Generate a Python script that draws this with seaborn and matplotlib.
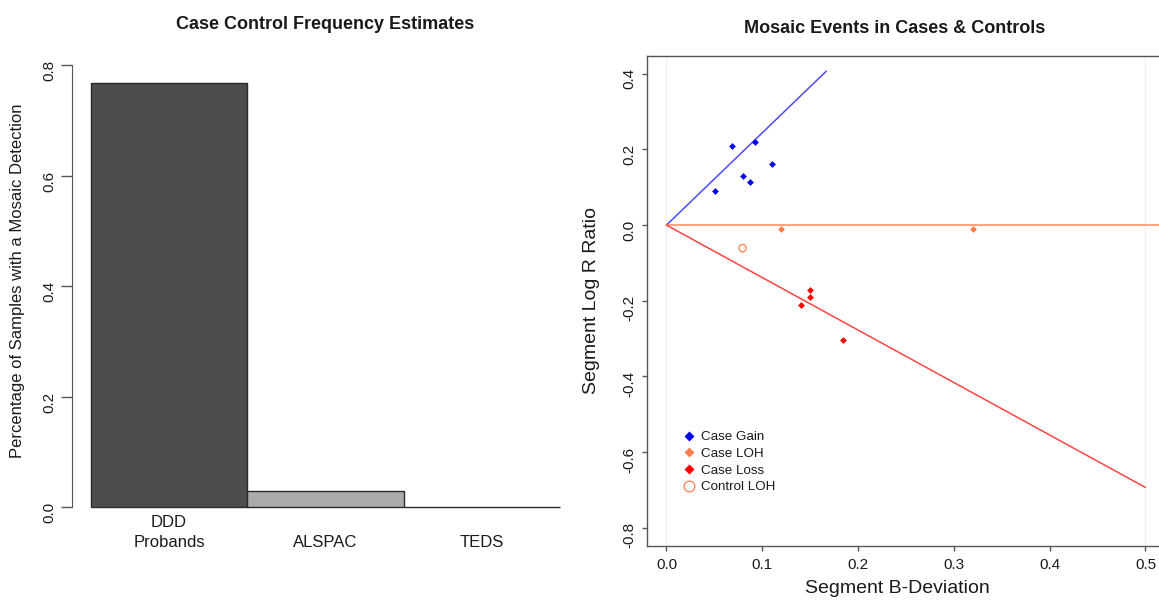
import numpy as np
import pandas as pd
import matplotlib
matplotlib.use('Agg')
import matplotlib.pyplot as plt
from matplotlib.lines import Line2D
from matplotlib.ticker import FormatStrFormatter
import seaborn as sns

# left panel: frequency per cohort
cohorts = ['DDD\nProbands', 'ALSPAC', 'TEDS']
freq = [0.768, 0.0295, 0.0]
left_yticks = [0.0, 0.2, 0.4, 0.6, 0.8]

# right panel: mosaic events (B-deviation vs log R ratio)
gain_bdev = [0.051, 0.0687, 0.0923, 0.1097, 0.0795, 0.0876]
gain_lrr = [0.090, 0.210, 0.220, 0.161, 0.130, 0.113]
loh_bdev = [0.1197, 0.3205]
loh_lrr = [-0.011, -0.011]
loss_bdev = [0.150, 0.150, 0.140, 0.184]
loss_lrr = [-0.171, -0.191, -0.211, -0.303]
ctrl_bdev = [0.0795]
ctrl_lrr = [-0.061]

# expected-state guide lines
gain_line_x = [0.0, 0.1668]
gain_line_y = [0.0, 0.407]
loh_line_x = [0.0, 0.52]
loh_line_y = [0.0, 0.0]
loss_line_x = [0.0, 0.5]
loss_line_y = [0.0, -0.694]

right_xticks = [0.0, 0.1, 0.2, 0.3, 0.4, 0.5]
right_yticks = [-0.8, -0.6, -0.4, -0.2, 0.0, 0.2, 0.4]

sns.set_style('white')
plt.rcParams['font.family'] = ['Liberation Sans', 'DejaVu Sans']

W, H = 1159, 600
fig = plt.figure(figsize=(W / 100, H / 100), dpi=100)

spine_col = '#555555'
text_col = '#1a1a1a'

# ---------- left: bar chart
ax1 = fig.add_axes([72 / W, (H - 524.3) / H, 506.8 / W, 458.8 / H])
df_bar = pd.DataFrame({'cohort': cohorts, 'freq': freq})
sns.barplot(data=df_bar, x='cohort', y='freq', hue='cohort',
            palette=['#4d4d4d', '#ababab', '#ffffff'], width=1.0,
            edgecolor='#2a2a2a', linewidth=1.0, legend=False, ax=ax1)
ax1.set_xlim(-0.62, 2.62)
ax1.set_ylim(-0.0307, 0.799)
for s in ['top', 'right', 'bottom']:
    ax1.spines[s].set_visible(False)
ax1.spines['left'].set_color(spine_col)
ax1.spines['left'].set_bounds(0, 0.8)
ax1.set_yticks(left_yticks)
ax1.yaxis.set_major_formatter(FormatStrFormatter('%.1f'))
ax1.tick_params(axis='y', left=True, direction='out', length=7.6, width=1,
                color=spine_col, pad=3.4, labelsize=11, labelrotation=90,
                labelcolor=text_col)
ax1.tick_params(axis='x', length=0, pad=18.5, labelsize=12, labelcolor=text_col)
for t in ax1.get_xticklabels():
    t.set_verticalalignment('bottom')
    t.set_linespacing(1.45)
ax1.set_xlabel('')
ax1.set_ylabel('Percentage of Samples with a Mosaic Detection', fontsize=12,
               color=text_col)
ax1.yaxis.set_label_coords(-0.093, 0.53)
ax1.set_title('Case Control Frequency Estimates', fontsize=13,
              fontweight='bold', pad=26.6, color=text_col)

# ---------- right: scatter
ax2 = fig.add_axes([647.3 / W, (H - 545.7) / H, 517.3 / W, 490 / H])
ax2.axvline(0.0, color='#eeeeee', lw=0.8, zorder=0)
ax2.axvline(0.5, color='#eeeeee', lw=0.8, zorder=0)
sns.lineplot(x=gain_line_x, y=gain_line_y, color='#4b4bff', lw=1.1,
             sort=False, estimator=None, ax=ax2)
sns.lineplot(x=loh_line_x, y=loh_line_y, color='#ff8a5c', lw=1.1,
             sort=False, estimator=None, ax=ax2)
sns.lineplot(x=loss_line_x, y=loss_line_y, color='#ff4444', lw=1.1,
             sort=False, estimator=None, ax=ax2)

sns.scatterplot(x=gain_bdev, y=gain_lrr, marker='D', color='#0000ff',
                s=12, linewidth=0, ax=ax2, zorder=3)
sns.scatterplot(x=loh_bdev, y=loh_lrr, marker='D', color='#ff7f50',
                s=12, linewidth=0, ax=ax2, zorder=3)
sns.scatterplot(x=loss_bdev, y=loss_lrr, marker='D', color='#ff0000',
                s=12, linewidth=0, ax=ax2, zorder=3)
sns.scatterplot(x=ctrl_bdev, y=ctrl_lrr, marker='o', facecolors='none',
                edgecolor='#ff8a5c', s=28, linewidth=1.0, ax=ax2, zorder=3)

ax2.set_xlim(-0.02, 0.52)
ax2.set_ylim(-0.848, 0.448)
for s in ax2.spines.values():
    s.set_color(spine_col)
    s.set_linewidth(1.0)
ax2.set_xticks(right_xticks)
ax2.set_yticks(right_yticks)
ax2.xaxis.set_major_formatter(FormatStrFormatter('%.1f'))
ax2.yaxis.set_major_formatter(FormatStrFormatter('%.1f'))
ax2.tick_params(axis='both', bottom=True, left=True, direction='out',
                length=3.6, width=1, color=spine_col, labelsize=11,
                labelcolor=text_col)
ax2.tick_params(axis='x', pad=5.5)
ax2.tick_params(axis='y', pad=4, labelrotation=90)
ax2.set_xlabel('Segment B-Deviation', fontsize=14, color=text_col)
ax2.xaxis.set_label_coords(0.483, -0.070)
ax2.set_ylabel('Segment Log R Ratio', fontsize=14, color=text_col)
ax2.yaxis.set_label_coords(-0.0914, 0.5)
ax2.set_title('Mosaic Events in Cases & Controls', fontsize=13,
              fontweight='bold', pad=16, x=0.478, color=text_col)

handles = [
    Line2D([], [], ls='', marker='D', ms=5.4, mfc='#0000ff', mec='none'),
    Line2D([], [], ls='', marker='D', ms=5.4, mfc='#ff7f50', mec='none'),
    Line2D([], [], ls='', marker='D', ms=5.4, mfc='#ff0000', mec='none'),
    Line2D([], [], ls='', marker='o', ms=7.7, mfc='none', mec='#ff8a5c', mew=1.0),
]
labels = ['Case Gain', 'Case LOH', 'Case Loss', 'Control LOH']
leg = ax2.legend(handles, labels, loc='upper left', bbox_to_anchor=(0.068, 0.234),
                 frameon=False, fontsize=9.6, handlelength=1.0, handletextpad=0.4,
                 labelspacing=0.32, borderpad=0, borderaxespad=0)
for t in leg.get_texts():
    t.set_color(text_col)

fig.savefig('out.png', dpi=100)
